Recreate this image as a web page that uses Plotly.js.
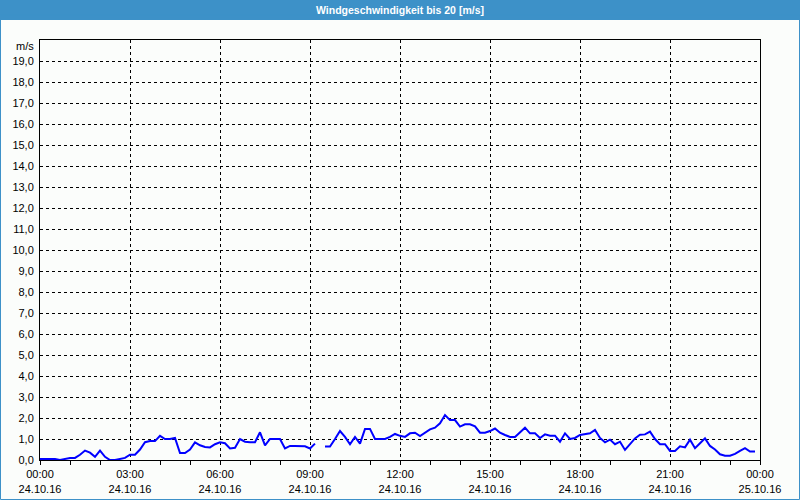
<!DOCTYPE html>
<html>
<head>
<meta charset="utf-8">
<script src="https://cdn.plot.ly/plotly-3.0.1.min.js"></script>
<style>
html,body{margin:0;padding:0;background:#fbfdfb;}
#chart{width:800px;height:500px;}
</style>
</head>
<body>
<div id="chart"></div>
<script>
// Wind speed [m/s], 10-minute samples starting 24.10.16 00:00 (null = missing)
const windSpeed = [
  0.05,0.05,0.05,0.05,0.0,0.05,0.1,0.1,0.25,0.45,0.35,0.15,0.45,0.15,0.0,0.0,0.05,0.1,
  0.25,0.25,0.5,0.85,0.9,0.9,1.15,1.0,1.0,1.05,0.33,0.33,0.5,0.84,0.7,0.62,0.6,0.75,
  0.84,0.8,0.55,0.58,1.0,0.87,0.85,0.85,1.32,0.7,1.0,1.0,1.0,0.55,0.67,0.67,0.67,0.65,
  0.55,0.78,null,0.64,0.64,1.0,1.38,1.1,0.75,1.1,0.78,1.48,1.48,1.0,1.0,1.0,1.1,1.24,
  1.15,1.1,1.27,1.3,1.14,1.3,1.46,1.54,1.75,2.14,1.9,1.9,1.59,1.7,1.7,1.6,1.3,1.3,
  1.38,1.5,1.3,1.19,1.1,1.1,1.3,1.54,1.27,1.27,1.05,1.22,1.16,1.16,0.87,1.27,1.0,1.05,
  1.19,1.22,1.27,1.43,1.05,0.84,0.97,0.75,0.87,0.48,0.75,1.03,1.2,1.22,1.35,1.0,0.75,0.75,
  0.43,0.43,0.65,0.6,0.97,0.56,0.8,1.03,0.67,0.5,0.27,0.2,0.2,0.29,0.43,0.56,0.4,0.4
];
const sampleMinutes = 10;
const xTickMinutes = [0,180,360,540,720,900,1080,1260,1440];
const xTickTimes = ["00:00","03:00","06:00","09:00","12:00","15:00","18:00","21:00","00:00"];
const xTickDates = ["24.10.16","24.10.16","24.10.16","24.10.16","24.10.16","24.10.16","24.10.16","24.10.16","25.10.16"];
const yTickVals = [0,1,2,3,4,5,6,7,8,9,10,11,12,13,14,15,16,17,18,19];
const yTickText = yTickVals.map(v => v.toFixed(1).replace('.', ','));
const chartTitle = "Windgeschwindigkeit bis 20 [m/s]";
const unitLabel = "m/s";

const xMinutes = windSpeed.map((_, i) => i * sampleMinutes);
const xTickText = xTickTimes.map((t, i) => t + "<br>" + xTickDates[i]);

const font = {family: "Liberation Sans, Arial, sans-serif", size: 11, color: "#000000"};
const frameBlue = "#3d91c8";

const data = [{
  x: xMinutes,
  y: windSpeed,
  type: "scatter",
  mode: "lines",
  connectgaps: false,
  line: {color: "#0000ff", width: 2},
  hoverinfo: "skip"
}];

const layout = {
  width: 800, height: 500,
  margin: {l: 40, r: 40, t: 40, b: 40, pad: 0},
  paper_bgcolor: "#fbfdfb",
  plot_bgcolor: "#fbfdfb",
  showlegend: false,
  font: font,
  title: {
    text: "<b>" + chartTitle + "</b>",
    font: {family: "Liberation Sans, Arial, sans-serif", size: 10.5, color: "#ffffff"},
    x: 0.5, xref: "paper", xanchor: "center",
    y: 1 - 10/500, yref: "container", yanchor: "middle"
  },
  xaxis: {
    range: [0, 1440],
    tickmode: "array",
    tickvals: xTickMinutes,
    ticktext: xTickText,
    ticks: "outside", ticklen: 4, tickcolor: "#000000", tickwidth: 1,
    minor: {dtick: 60, tick0: 0, ticks: "outside", ticklen: 4, tickcolor: "#000000", showgrid: false},
    showgrid: true, gridcolor: "#000000", gridwidth: 1, griddash: "3px,3px",
    showline: true, linecolor: "#000000", linewidth: 1, mirror: true,
    zeroline: false, fixedrange: true,
    tickfont: font
  },
  yaxis: {
    range: [0, 20],
    tickmode: "array",
    tickvals: yTickVals,
    ticktext: yTickText,
    ticks: "", ticklabelstandoff: 3,
    showgrid: true, gridcolor: "#000000", gridwidth: 1, griddash: "3px,3px",
    showline: true, linecolor: "#000000", linewidth: 1, mirror: true,
    zeroline: false, fixedrange: true,
    tickfont: font
  },
  shapes: [
    {type: "rect", xref: "paper", yref: "paper",
     x0: -40/720, x1: 760/720, y0: 440/420, y1: 460/420,
     fillcolor: frameBlue, line: {width: 0}, layer: "below"},
    {type: "rect", xref: "paper", yref: "paper",
     x0: -39.5/720, x1: 759.5/720, y0: -39.5/420, y1: 445/420,
     fillcolor: "rgba(0,0,0,0)", line: {color: frameBlue, width: 1}, layer: "below"}
  ],
  annotations: [{
    text: unitLabel, xref: "paper", yref: "paper",
    x: -4/720, y: (460-46)/420, xanchor: "right", yanchor: "middle",
    showarrow: false, font: font
  }]
};

Plotly.newPlot("chart", data, layout, {displayModeBar: false, staticPlot: true});
</script>
</body>
</html>
